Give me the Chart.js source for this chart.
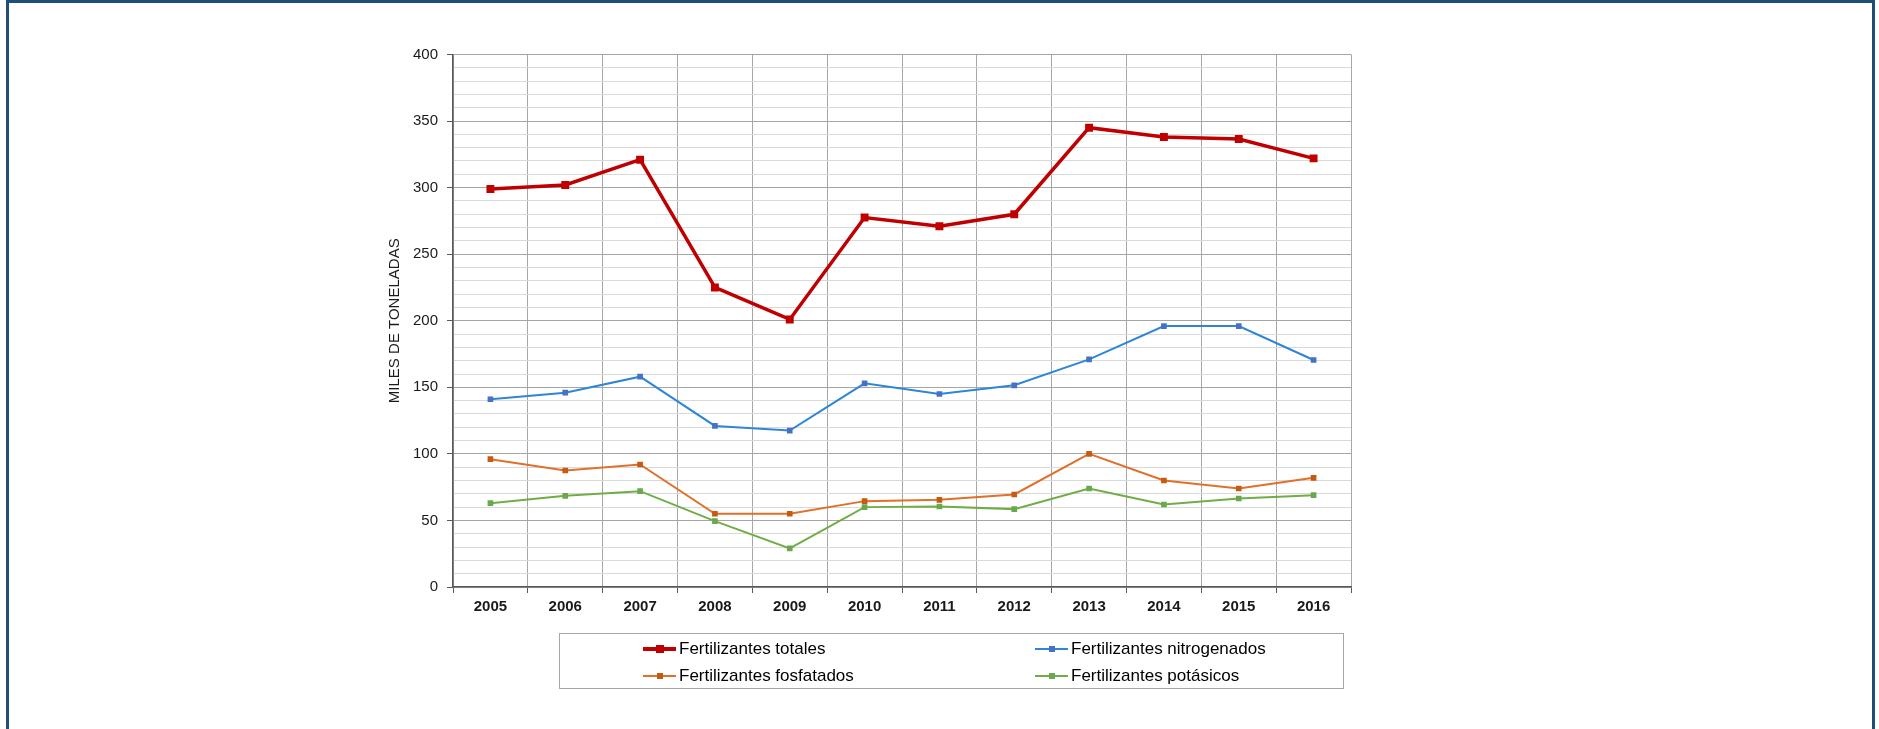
<!DOCTYPE html>
<html>
<head>
<meta charset="utf-8">
<script src="https://cdn.jsdelivr.net/npm/chart.js@4/dist/chart.umd.min.js"></script>
<style>
  body { margin: 0; background: #fff; overflow: hidden; font-family: "Liberation Sans", Arial, sans-serif; }
  #frame { position: absolute; left: 6px; top: 0; width: 1863px; height: 800px; border: 3px solid #1f4e79; }
  #chart { position: absolute; left: 0; top: 0; }
  #legend { position: absolute; left: 559px; top: 633px; width: 783px; height: 54px; border: 1px solid #a6a6a6; }
  .item { position: absolute; display: flex; align-items: center; font-size: 17px; color: #000; white-space: nowrap; }
  .mark { position: relative; width: 33px; height: 10px; margin-right: 3px; }
  .mark .ln { position: absolute; left: 0; right: 0; top: 50%; }
  .mark .sq { position: absolute; left: 50%; top: 50%; }
</style>
</head>
<body>
<div id="frame"></div>
<canvas id="chart" width="1879" height="729"></canvas>
<div id="legend"></div>
<script>
const years = ['2005', '2006', '2007', '2008', '2009', '2010', '2011', '2012', '2013', '2014', '2015', '2016'];
const totales = [299, 302, 321, 225, 201, 277.5, 271, 280, 345, 338, 336.5, 322];
const nitrogenados = [141, 146, 158, 121, 117.5, 153, 145, 151.5, 171, 196, 196, 170.5];
const fosfatados = [96, 87.5, 92, 55, 55, 64.5, 65.5, 69.5, 100, 80, 74, 82];
const potasicos = [63, 68.5, 72, 49.5, 29, 60, 60.5, 58.5, 74, 62, 66.5, 69];

function serie(label, data, line, point, width, radius) {
    return {
        label: label,
        data: data,
        borderColor: line,
        backgroundColor: point,
        pointBackgroundColor: point,
        pointBorderColor: point,
        borderWidth: width,
        pointStyle: 'rect',
        pointRadius: radius,
        pointBorderWidth: 0,
        tension: 0
    };
}

const datasets = [
    serie('Fertilizantes totales', totales, '#c00000', '#c00000', 3.5, 5.6),
    serie('Fertilizantes nitrogenados', nitrogenados, '#2e86d6', '#4472c4', 2, 4),
    serie('Fertilizantes fosfatados', fosfatados, '#e0702a', '#c55a11', 2, 4),
    serie('Fertilizantes potásicos', potasicos, '#70ad47', '#6aa84f', 2, 4)
];

const ctx = document.getElementById('chart').getContext('2d');
const chart = new Chart(ctx, {
    type: 'line',
    data: { labels: years, datasets: datasets },
    options: {
        responsive: false,
        animation: false,
        layout: { padding: { left: 382, right: 528, top: 54.5, bottom: 102 } },
        plugins: { legend: { display: false }, tooltip: { enabled: false } },
        scales: {
            x: {
                offset: true,
                grid: {
                    offset: true,
                    color: '#a6a6a6',
                    lineWidth: 1,
                    tickLength: 6,
                    tickColor: '#595959'
                },
                border: { color: '#595959', width: 1.5 },
                ticks: {
                    color: '#1a1a1a',
                    padding: 5,
                    font: { family: 'Liberation Sans', size: 15, weight: 'bold' }
                },
                afterFit: function(scale) { scale.height = 40; }
            },
            y: {
                min: 0,
                max: 400,
                grid: {
                    color: c => (c.tick && c.tick.value % 50 === 0) ? '#a6a6a6' : '#d9d9d9',
                    lineWidth: 1,
                    tickLength: 6,
                    tickColor: c => (c.tick && c.tick.value % 50 === 0) ? '#595959' : 'rgba(0,0,0,0)'
                },
                border: { color: '#595959', width: 1.5 },
                ticks: {
                    stepSize: 10,
                    autoSkip: false,
                    color: '#1a1a1a',
                    padding: 9,
                    font: { family: 'Liberation Sans', size: 15 },
                    callback: v => (v % 50 === 0) ? v : ''
                },
                title: {
                    display: true,
                    text: 'MILES DE TONELADAS',
                    color: '#1a1a1a',
                    font: { family: 'Liberation Sans', size: 15 }
                },
                afterFit: function(scale) { scale.width = 71; }
            }
        }
    }
});

// legend as HTML, built from the chart datasets
const legendBox = document.getElementById('legend');
const spots = [[83, 15], [475, 15], [83, 42], [475, 42]];
chart.data.datasets.forEach(function(ds, i) {
    const item = document.createElement('div');
    item.className = 'item';
    item.style.left = spots[i][0] + 'px';
    item.style.top = (spots[i][1] - 11) + 'px';
    item.style.height = '22px';
    const lw = ds.borderWidth + 0.5;
    const sq = i === 0 ? 8 : 6;
    item.innerHTML =
        '<span class="mark"><span class="ln" style="height:' + lw + 'px;margin-top:' + (-lw / 2) + 'px;background:' + ds.borderColor + '"></span>' +
        '<span class="sq" style="width:' + sq + 'px;height:' + sq + 'px;margin-left:' + (-sq / 2) + 'px;margin-top:' + (-sq / 2) + 'px;background:' + ds.pointBackgroundColor + '"></span></span>' +
        '<span>' + ds.label + '</span>';
    legendBox.appendChild(item);
});
</script>
</body>
</html>
